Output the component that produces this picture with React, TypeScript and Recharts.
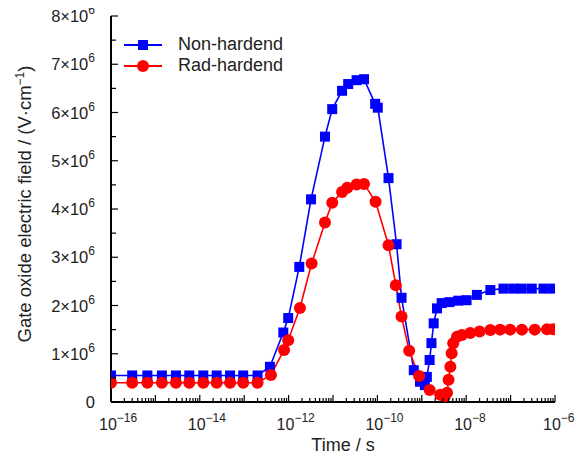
import { LineChart, Line, XAxis, YAxis, Legend } from 'recharts';

// time in seconds, field in units of 10^6 V/cm
const nonHardTime = [
  1e-16, 3e-16, 6.6e-16, 1.4e-15, 2.9e-15, 5.8e-15, 1.2e-14, 2.4e-14, 4.8e-14, 9.5e-14, 2e-13,
  3.8e-13, 7.6e-13, 9.8e-13, 1.74e-12, 3.2e-12, 6.6e-12, 9.6e-12, 1.6e-11, 2.2e-11, 3.4e-11, 5e-11,
  8.9e-11, 1.02e-10, 1.78e-10, 2.7e-10, 3.5e-10, 6.6e-10, 9.1e-10, 1.17e-9,
  1.3e-9, 1.5e-9, 1.65e-9, 1.85e-9, 2.2e-9, 2.8e-9, 4.2e-9, 6.6e-9, 1.02e-8, 1.74e-8, 3.5e-8,
  6.9e-8, 1.15e-7, 1.78e-7, 3e-7, 5.5e-7, 9.1e-7,
];
const nonHardField = [
  0.55, 0.55, 0.55, 0.55, 0.55, 0.55, 0.55, 0.55, 0.55, 0.55, 0.55,
  0.73, 1.44, 1.74, 2.8, 4.2, 5.5, 6.07, 6.45, 6.59, 6.67, 6.69,
  6.18, 6.1, 4.64, 3.27, 2.16, 0.66, 0.42, 0.35,
  0.52, 0.87, 1.22, 1.63, 1.94, 2.05, 2.07, 2.1, 2.11, 2.22, 2.32,
  2.35, 2.35, 2.35, 2.35, 2.35, 2.35,
];

const radHardTime = [
  1e-16, 3e-16, 6.6e-16, 1.4e-15, 2.9e-15, 5.8e-15, 1.2e-14, 2.4e-14, 4.8e-14, 9.5e-14, 2e-13,
  4e-13, 7.9e-13, 9.8e-13, 1.8e-12, 3.3e-12, 6.6e-12, 9.6e-12, 1.6e-11, 2.1e-11, 3.4e-11, 5e-11,
  9.1e-11, 1.78e-10, 2.6e-10, 3.5e-10, 5.2e-10, 8.7e-10, 1.5e-9, 2.6e-9, 3.3e-9,
  3.7e-9, 4e-9, 4.4e-9, 4.7e-9, 5.1e-9, 6.2e-9, 8e-9, 1.23e-8, 2e-8, 3.5e-8,
  5.8e-8, 9.8e-8, 1.8e-7, 3.5e-7, 6.6e-7, 9.1e-7,
];
const radHardField = [
  0.4, 0.4, 0.4, 0.4, 0.4, 0.4, 0.4, 0.4, 0.4, 0.4, 0.4,
  0.56, 1.08, 1.28, 1.95, 2.87, 3.72, 4.13, 4.35, 4.44, 4.51, 4.52,
  4.15, 3.25, 2.42, 1.77, 1.06, 0.54, 0.25, 0.15, 0.12,
  0.19, 0.46, 0.73, 1.01, 1.22, 1.35, 1.39, 1.43, 1.46, 1.49,
  1.5, 1.5, 1.5, 1.5, 1.51, 1.51,
];

const decades = [-16, -15, -14, -13, -12, -11, -10, -9, -8, -7, -6];
const labelledDecades = [-16, -14, -12, -10, -8, -6];
const minorSteps = [2, 3, 4, 5, 6, 7, 8, 9];
const yTicks = [0, 0.5, 1, 1.5, 2, 2.5, 3, 3.5, 4, 4.5, 5, 5.5, 6, 6.5, 7, 7.5, 8];

const nonHardData = nonHardTime.map((t, i) => ({ t, v: nonHardField[i] }));
const radHardData = radHardTime.map((t, i) => ({ t, v: radHardField[i] }));

const xTicks: number[] = [];
decades.forEach((d) => {
  xTicks.push(Number(`1e${d}`));
  if (d < -6) minorSteps.forEach((m) => xTicks.push(Number(`${m}e${d}`)));
});

const FONT = '"Liberation Sans", Arial, sans-serif';
const BLUE = '#0000ff';
const RED = '#ff0000';

const XTick = (props: any) => {
  const { x, y, payload } = props;
  const e = Math.log10(payload.value);
  const exp = Math.round(e);
  const major = Math.abs(e - exp) < 1e-6;
  return (
    <g>
      <line x1={x} x2={x} y1={y} y2={y - (major ? 7 : 4)} stroke="#000" strokeWidth={1.2} />
      {major && labelledDecades.includes(exp) && (
        <text x={x - 12} y={y + 28} fontSize={16} fontFamily={FONT} fill="#222">
          10<tspan dy={-8} fontSize={12}>{'\u2212' + Math.abs(exp)}</tspan>
        </text>
      )}
    </g>
  );
};

const YTick = (props: any) => {
  const { x, y, payload } = props;
  const v = payload.value;
  const whole = Math.abs(v - Math.round(v)) < 1e-6;
  return (
    <g>
      <line x1={x} x2={x + (whole ? 7 : 5)} y1={y} y2={y} stroke="#000" strokeWidth={1.2} />
      {whole && (
        <text x={x - 16} y={y + 6} textAnchor="end" fontSize={16.5} fontFamily={FONT} fill="#222">
          {v === 0 ? '0' : (
            <>
              {v}×10<tspan dy={-8} fontSize={12}>6</tspan>
            </>
          )}
        </text>
      )}
    </g>
  );
};

const YTitle = () => (
  <text
    transform="translate(23,204) rotate(-90)"
    textAnchor="middle"
    fontSize={18.5}
    fontFamily={FONT}
    fill="#222"
  >
    Gate oxide electric field / (V·cm<tspan dy={-7} fontSize={12}>{'\u2212'}1</tspan>
    <tspan dy={7}>)</tspan>
  </text>
);

const XTitle = () => (
  <text x={335} y={451} textAnchor="middle" fontSize={18} fontFamily={FONT} fill="#222">
    Time / s
  </text>
);

const Square = (props: any) => {
  const { cx, cy, index } = props;
  return <rect key={`sq-${index}`} x={cx - 5} y={cy - 5} width={10} height={10} fill={BLUE} />;
};

const Circle = (props: any) => {
  const { cx, cy, index } = props;
  return <circle key={`ci-${index}`} cx={cx} cy={cy} r={6} fill={RED} />;
};

const legendRows = [
  { name: 'Non-hardend', color: BLUE, marker: 'square' },
  { name: 'Rad-hardend', color: RED, marker: 'circle' },
];

const renderLegend = () => (
  <div style={{ fontFamily: FONT, fontSize: 18, color: '#222', lineHeight: '21px' }}>
    {legendRows.map((r) => (
      <div key={r.name} style={{ display: 'flex', alignItems: 'center', height: 21, whiteSpace: 'nowrap' }}>
        <svg width={56} height={16} style={{ flex: 'none' }}>
          <line x1={2} x2={40} y1={8} y2={8} stroke={r.color} strokeWidth={2} />
          {r.marker === 'square' ? (
            <rect x={16} y={3} width={10} height={10} fill={r.color} />
          ) : (
            <circle cx={21} cy={8} r={6} fill={r.color} />
          )}
        </svg>
        <span>{r.name}</span>
      </div>
    ))}
  </div>
);

export default function App() {
  return (
    <div style={{ width: 577, height: 460, marginTop: -8 }}>
      <LineChart width={577} height={460} margin={{ top: 16, right: 30, bottom: 8, left: 0 }}>
        <XAxis
          dataKey="t"
          type="number"
          scale="log"
          domain={[1e-16, 1e-6]}
          ticks={xTicks}
          interval={0}
          allowDataOverflow
          height={50}
          tickSize={0}
          tickMargin={0}
          tickLine={false}
          tick={<XTick />}
          axisLine={{ stroke: '#000', strokeWidth: 2 }}
          label={<XTitle />}
        />
        <YAxis
          type="number"
          domain={[0, 8]}
          ticks={yTicks}
          interval={0}
          width={103}
          tickSize={0}
          tickMargin={0}
          tickLine={false}
          tick={<YTick />}
          axisLine={{ stroke: '#000', strokeWidth: 2 }}
          label={<YTitle />}
        />
        <Legend
          layout="vertical"
          align="center"
          verticalAlign="middle"
          content={renderLegend}
          wrapperStyle={{ top: 34, left: 114, width: 220 }}
        />
        <Line
          data={nonHardData}
          dataKey="v"
          name="Non-hardend"
          type="linear"
          stroke={BLUE}
          strokeWidth={1.6}
          dot={<Square />}
          isAnimationActive={false}
        />
        <Line
          data={radHardData}
          dataKey="v"
          name="Rad-hardend"
          type="linear"
          stroke={RED}
          strokeWidth={1.6}
          dot={<Circle />}
          isAnimationActive={false}
        />
      </LineChart>
    </div>
  );
}
